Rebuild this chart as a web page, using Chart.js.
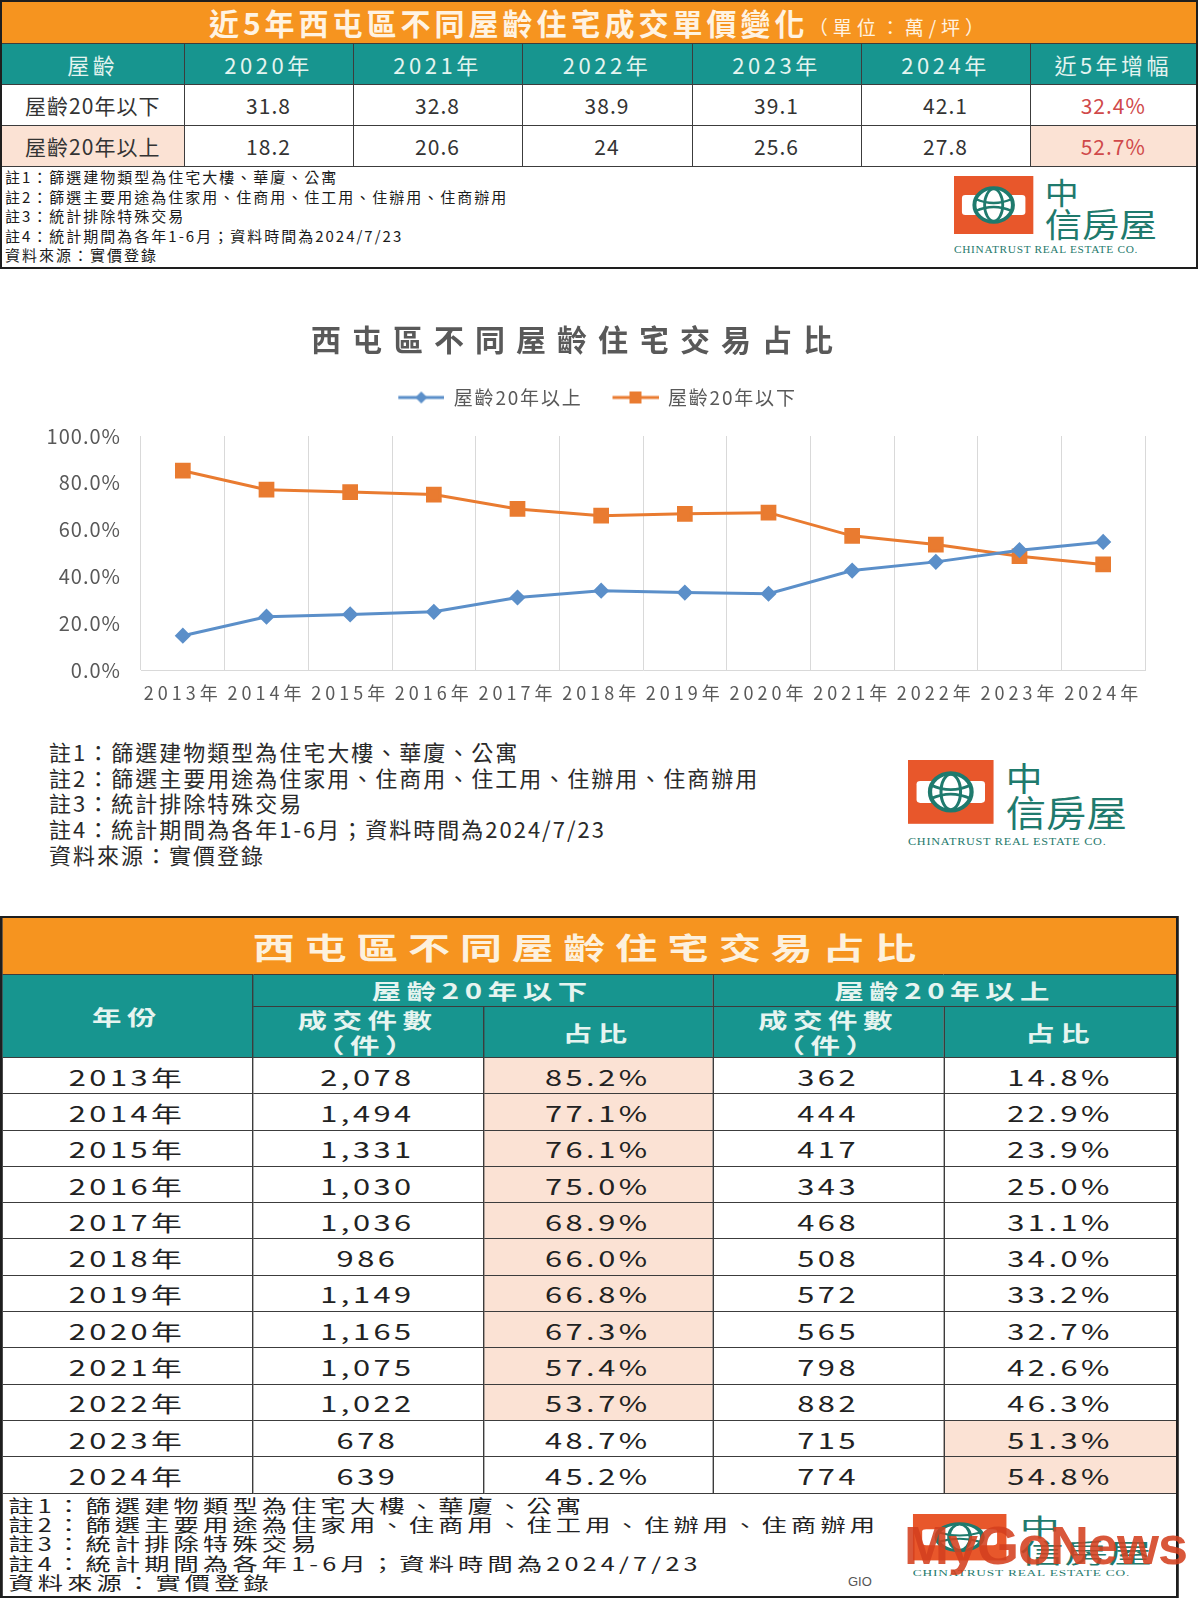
<!DOCTYPE html>
<html>
<head>
<meta charset="utf-8">
<script src="https://cdn.jsdelivr.net/npm/chart.js@4.4.1/dist/chart.umd.min.js"></script>
<style>
*{box-sizing:border-box}
body{margin:0;width:1200px;height:1600px;position:relative;background:#fff;overflow:hidden;font-family:"Noto Sans CJK TC","Noto Sans",sans-serif;color:#333}
table{border-collapse:collapse;table-layout:fixed}
#priceBlock{position:absolute;left:0;top:0;width:1198px;height:269px;border:2px solid #1e1e1e}
#priceTitle{height:41px;background:#f6941f;color:#fff3e2;font-weight:bold;font-size:30px;letter-spacing:4px;text-align:center;line-height:41px}
#priceTitle small{font-size:19px;font-weight:normal;letter-spacing:5px}
#priceTable{width:1194px}
#priceTable td,#priceTable th{border:1px solid #3c3c3c;padding:0;text-align:center;font-size:21px;height:41px;letter-spacing:1px;color:#333;font-weight:normal}
#priceTable th{background:#17958f;color:#e4f4f0;font-size:22px;letter-spacing:3.5px}
#priceTable tr>*:first-child{border-left:none}
#priceTable tr>*:last-child{border-right:none}
#priceTable .red{color:#d0494a}
.peach{background:#fbe2d4}
#priceNotes{position:absolute;left:3px;top:165px;font-size:15px;line-height:19.5px;letter-spacing:2px;color:#1a1a1a}
.logo{position:absolute}
#chartNotes{position:absolute;left:49px;top:739px;font-size:22px;line-height:25.7px;letter-spacing:2px;color:#2a2a2a}
#shareBlock{position:absolute;left:0;top:916px;width:842px;height:682px;transform:scaleX(1.4);transform-origin:0 0;border:2px solid #1e1e1e}
#shareTitle{height:56px;background:#f6941f;color:#fdf1de;font-weight:bold;font-size:30px;letter-spacing:7px;text-align:center;line-height:56px}
#shareTable{width:838px}
#shareTable td,#shareTable th{border:1px solid #3c3c3c;padding:0;text-align:center;color:#222;font-weight:normal}
#shareTable th{background:#17958f;color:#e6f4f0;font-weight:bold;font-size:21px;letter-spacing:4px;line-height:25px}
#shareTable td{font-size:22px;letter-spacing:2.5px;height:36.3px}
#shareTable tr>*:first-child{border-left:none}
#shareTable tr>*:last-child{border-right:none}
#shareNotes{position:absolute;left:4px;top:578px;font-size:18px;line-height:19.2px;letter-spacing:3px;color:#222}
#watermark{position:absolute;left:904px;top:1514px;font-family:"Liberation Sans",sans-serif;font-weight:bold;font-size:54px;letter-spacing:-1px;color:#d4401f;opacity:0.88}
#gio{position:absolute;left:848px;top:1574px;font-family:"Liberation Sans",sans-serif;font-size:13px;color:#555}
</style>
</head>
<body>

<div id="priceBlock">
  <div id="priceTitle">近5年西屯區不同屋齡住宅成交單價變化<small>（單位：萬/坪）</small></div>
  <table id="priceTable">
    <colgroup><col style="width:182px"><col style="width:169px"><col style="width:169px"><col style="width:170px"><col style="width:169px"><col style="width:169px"><col style="width:166px"></colgroup>
  </table>
  <div id="priceNotes" class="notes"></div>
  <div class="logo" id="logo1" style="left:952px;top:174px;width:204px;height:80px"></div>
</div>

<canvas id="shareChart" width="1200" height="432" style="position:absolute;left:0;top:300px"></canvas>
<div id="chartNotes" class="notes"></div>
<div class="logo" id="logo2" style="left:908px;top:760px;width:220px;height:88px"></div>

<div id="shareBlock">
  <div id="shareTitle">西屯區不同屋齡住宅交易占比</div>
  <table id="shareTable">
    <colgroup><col style="width:178px"><col style="width:165px"><col style="width:164px"><col style="width:165px"><col style="width:166px"></colgroup>
  </table>
  <div id="shareNotes" class="notes"></div>
  <div class="logo" id="logo3" style="left:650px;top:596px;width:172px;height:64px"></div>
</div>
<div id="gio">GIO</div>
<div id="watermark">MyGoNews</div>

<script>
// 近5年成交單價 (萬/坪)
const priceYears = ['2020年', '2021年', '2022年', '2023年', '2024年'];
const priceRowLabels = ['屋齡20年以下', '屋齡20年以上'];
const priceBelow20 = [31.8, 32.8, 38.9, 39.1, 42.1];
const priceAbove20 = [18.2, 20.6, 24, 25.6, 27.8];
const priceGrowth = [32.4, 52.7];

// 交易占比
const years = ['2013年', '2014年', '2015年', '2016年', '2017年', '2018年', '2019年', '2020年', '2021年', '2022年', '2023年', '2024年'];
const countBelow20 = [2078, 1494, 1331, 1030, 1036, 986, 1149, 1165, 1075, 1022, 678, 639];
const shareBelow20 = [85.2, 77.1, 76.1, 75.0, 68.9, 66.0, 66.8, 67.3, 57.4, 53.7, 48.7, 45.2];
const countAbove20 = [362, 444, 417, 343, 468, 508, 572, 565, 798, 882, 715, 774];
const shareAbove20 = [14.8, 22.9, 23.9, 25.0, 31.1, 34.0, 33.2, 32.7, 42.6, 46.3, 51.3, 54.8];
const yTicks = [0, 20, 40, 60, 80, 100];

const noteLines = [
  '註1：篩選建物類型為住宅大樓、華廈、公寓',
  '註2：篩選主要用途為住家用、住商用、住工用、住辦用、住商辦用',
  '註3：統計排除特殊交易',
  '註4：統計期間為各年1-6月；資料時間為2024/7/23',
  '資料來源：實價登錄'
];

const logoSvg =
  '<svg viewBox="0 0 180 80" width="100%" height="100%" preserveAspectRatio="none" xmlns="http://www.w3.org/2000/svg">' +
  '<rect x="0" y="0" width="70" height="58" fill="#e8572b"/>' +
  '<rect x="7" y="19" width="56" height="20" rx="3" fill="#fff"/>' +
  '<circle cx="35" cy="29" r="17" fill="#fff" stroke="#1f7a6d" stroke-width="3.5"/>' +
  '<ellipse cx="35" cy="29" rx="8" ry="16" fill="none" stroke="#1f7a6d" stroke-width="2.5"/>' +
  '<path d="M19 23 Q35 31 51 23 M19 35 Q35 27 51 35" fill="none" stroke="#1f7a6d" stroke-width="2.5"/>' +
  '<text x="80" y="28" font-size="30" fill="#1f7a6d" font-family="Noto Sans CJK TC">中</text>' +
  '<text x="80" y="61" font-size="33" fill="#1f7a6d" font-family="Noto Sans CJK TC">信房屋</text>' +
  '<text x="0" y="77" font-size="10" letter-spacing="0.6" fill="#1f7a6d" font-family="Liberation Serif">CHINATRUST REAL ESTATE CO.</text>' +
  '</svg>';

function fillNotes(id) {
  document.getElementById(id).innerHTML = noteLines.map(l => '<div>' + l + '</div>').join('');
}

function buildPriceTable() {
  const rows = [priceBelow20, priceAbove20];
  let html = '<tr><th>屋齡</th>' + priceYears.map(y => '<th>' + y + '</th>').join('') + '<th>近5年增幅</th></tr>';
  rows.forEach((vals, i) => {
    const hl = i === 1 ? ' peach' : '';
    html += '<tr><td class="' + hl + '">' + priceRowLabels[i] + '</td>' +
      vals.map(v => '<td>' + v + '</td>').join('') +
      '<td class="red' + hl + '">' + priceGrowth[i].toFixed(1) + '%</td></tr>';
  });
  document.getElementById('priceTable').insertAdjacentHTML('beforeend', html);
}

function buildShareTable() {
  let html = '<tr style="height:32px"><th rowspan="2">年份</th><th colspan="2">屋齡20年以下</th><th colspan="2">屋齡20年以上</th></tr>' +
    '<tr style="height:51px"><th>成交件數<br>（件）</th><th>占比</th><th>成交件數<br>（件）</th><th>占比</th></tr>';
  years.forEach((y, i) => {
    html += '<tr><td>' + y + '</td>' +
      '<td>' + countBelow20[i].toLocaleString('en-US') + '</td>' +
      '<td class="' + (shareBelow20[i] > 50 ? 'peach' : '') + '">' + shareBelow20[i].toFixed(1) + '%</td>' +
      '<td>' + countAbove20[i].toLocaleString('en-US') + '</td>' +
      '<td class="' + (shareAbove20[i] > 50 ? 'peach' : '') + '">' + shareAbove20[i].toFixed(1) + '%</td></tr>';
  });
  document.getElementById('shareTable').insertAdjacentHTML('beforeend', html);
}

// legend icon: line with marker, Excel style
function legendIcon(color, style) {
  const c = document.createElement('canvas');
  c.width = 66; c.height = 16;
  const g = c.getContext('2d');
  g.strokeStyle = color; g.lineWidth = 3;
  g.beginPath(); g.moveTo(20, 8); g.lineTo(66, 8); g.stroke();
  g.fillStyle = color;
  if (style === 'diamond') {
    g.beginPath(); g.moveTo(43, 2); g.lineTo(49, 8); g.lineTo(43, 14); g.lineTo(37, 8); g.closePath(); g.fill();
  } else {
    g.fillRect(37, 2, 12, 12);
  }
  return c;
}

const blue = '#5b8fc9';
const orange = '#e97b30';
const legendIcons = [legendIcon(blue, 'diamond'), legendIcon(orange, 'square')];

function spaced(obj, fn, px, dx) {
  const orig = obj[fn];
  obj[fn] = function () {
    const ctx = this.ctx;
    ctx.save();
    ctx.letterSpacing = px;
    if (dx) ctx.translate(dx, 0);
    const r = orig.apply(this, arguments);
    ctx.restore();
    return r;
  };
}

// spaced title / legend / tick labels, extra room under legend
const spacing = {
  id: 'spacing',
  beforeInit(chart) {
    spaced(chart.titleBlock, 'draw', '11px', -10);
    const legend = chart.legend;
    spaced(legend, 'draw', '1.8px');
    spaced(legend, 'fit', '1.8px');
    const fitLegend = legend.fit;
    legend.fit = function () {
      fitLegend.apply(this, arguments);
      this.height += 19;
    };
  },
  beforeDraw(chart) {
    const x = chart.scales.x;
    if (!x._spaced) {
      spaced(x, 'drawLabels', '4px');
      x._spaced = true;
    }
    const y = chart.scales.y;
    if (!y._spaced) {
      spaced(y, 'drawLabels', '1px');
      y._spaced = true;
    }
  }
};

function chartLoader() {
  Chart.defaults.font.family = '"Noto Sans CJK TC", "Noto Sans", sans-serif';
  Chart.defaults.color = '#595959';
  let shareKaart = document.getElementById('shareChart').getContext('2d');
  let shareChart = new Chart(shareKaart, {
    type: 'line',
    data: {
      labels: years,
      datasets: [{
        label: '屋齡20年以上',
        data: shareAbove20,
        borderColor: blue,
        backgroundColor: blue,
        borderWidth: 3,
        pointStyle: 'rectRot',
        pointRadius: 6,
        pointHoverRadius: 6
      }, {
        label: '屋齡20年以下',
        data: shareBelow20,
        borderColor: orange,
        backgroundColor: orange,
        borderWidth: 3,
        pointStyle: 'rect',
        pointRadius: 9,
        pointHoverRadius: 9
      }]
    },
    options: {
      responsive: false,
      animation: false,
      layout: { padding: { left: 30, right: 55, top: 0, bottom: 16 } },
      plugins: {
        title: {
          display: true,
          text: '西屯區不同屋齡住宅交易占比',
          color: '#595959',
          font: { size: 30, weight: 'bold' },
          padding: { top: 22, bottom: 20 }
        },
        legend: {
          position: 'top',
          labels: {
            usePointStyle: true,
            pointStyleWidth: 66,
            padding: 10,
            color: '#595959',
            font: { size: 19 },
            generateLabels(chart) {
              const items = Chart.defaults.plugins.legend.labels.generateLabels(chart);
              items.forEach((it, i) => { it.pointStyle = legendIcons[i]; });
              return items;
            }
          }
        },
        tooltip: { enabled: false }
      },
      scales: {
        x: {
          offset: true,
          grid: { display: true, offset: true, color: '#d9d9d9', drawTicks: false },
          border: { display: true, color: '#d9d9d9' },
          ticks: { padding: 12, color: '#595959', font: { size: 18 }, maxRotation: 0 }
        },
        y: {
          min: 0,
          max: 100,
          afterFit(scale) { scale.width = 111; },
          afterBuildTicks(scale) { scale.ticks = yTicks.map(v => ({ value: v })); },
          grid: { display: false, drawTicks: false },
          border: { display: false },
          ticks: {
            padding: 20,
            color: '#595959',
            font: { size: 20 },
            callback: v => v.toFixed(1) + '%'
          }
        }
      }
    },
    plugins: [spacing]
  });
  shareChart.draw();
}

window.onload = function () {
  buildPriceTable();
  buildShareTable();
  fillNotes('priceNotes');
  fillNotes('chartNotes');
  fillNotes('shareNotes');
  ['logo1', 'logo2', 'logo3'].forEach(id => { document.getElementById(id).innerHTML = logoSvg; });
  chartLoader();
};
</script>
</body>
</html>
